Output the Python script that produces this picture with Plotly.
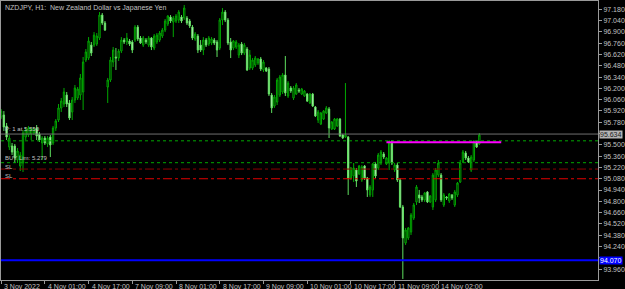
import plotly.graph_objects as go

# ---------------- data ----------------
bar_index = list(range(176))

open_ = [95.845,95.870,95.734,95.473,95.486,95.486,95.312,95.238,95.275,95.597,
         95.622,95.634,95.647,95.709,95.634,95.523,95.585,95.511,95.597,95.523,
         95.709,95.808,95.957,96.006,96.118,96.019,95.907,96.056,96.081,96.118,
         96.155,96.551,96.576,96.737,96.737,96.750,96.824,97.109,97.010,96.217,
         96.304,96.527,96.589,96.576,96.663,96.799,96.775,96.787,96.775,96.799,
         96.960,96.824,96.737,96.799,96.737,96.824,96.700,96.775,96.799,96.849,
         96.923,96.998,97.084,97.022,97.035,97.047,97.084,97.072,97.072,97.035,
         96.960,96.812,96.849,96.737,96.675,96.799,96.750,96.762,96.799,96.775,
         96.700,97.047,97.146,97.047,96.775,96.700,96.713,96.613,96.750,96.638,
         96.688,96.452,96.452,96.490,96.514,96.564,96.428,96.452,96.440,96.118,
         95.981,96.031,96.118,96.155,96.366,96.105,96.205,96.081,96.130,96.180,
         96.130,96.105,96.130,96.019,96.130,95.969,95.808,95.758,95.820,95.895,
         95.944,95.696,95.696,95.734,95.820,95.622,95.597,95.597,95.089,95.114,
         95.188,95.139,95.064,95.238,95.089,94.879,94.941,95.263,95.213,95.275,
         95.387,95.263,95.275,95.523,95.188,95.250,95.064,94.730,94.284,94.346,
         94.420,94.593,94.792,94.879,94.854,94.817,94.916,94.792,94.730,94.817,
         95.126,95.126,94.755,94.854,94.804,94.879,94.755,94.879,95.040,95.288,
         95.399,95.337,95.188,95.312,95.535,95.511]
high_ = [95.944,95.919,95.771,95.622,95.523,95.511,95.461,95.411,95.684,95.721,
         95.734,95.721,95.721,95.746,95.659,95.610,95.610,95.610,95.622,95.734,
         95.820,96.006,96.081,96.205,96.155,96.056,96.093,96.242,96.217,96.378,
         96.589,96.688,96.836,96.775,96.898,96.886,97.146,97.134,97.035,96.329,
         96.589,96.713,96.700,96.688,96.836,96.824,96.886,96.812,96.799,96.985,
         96.985,96.849,96.849,96.824,96.849,96.836,96.874,96.886,96.911,96.948,
         97.060,97.109,97.109,97.097,97.122,97.171,97.109,97.233,97.097,97.060,
         96.985,96.898,96.874,96.799,96.836,96.824,96.849,96.836,96.824,96.799,
         97.072,97.196,97.171,97.072,96.824,96.799,96.799,96.762,96.775,96.762,
         96.713,96.675,96.576,96.601,96.576,96.589,96.551,96.465,96.465,96.143,
         96.118,96.329,96.366,96.390,96.601,96.291,96.229,96.229,96.266,96.205,
         96.205,96.180,96.143,96.143,96.143,95.981,95.932,95.907,95.932,95.981,
         95.969,95.796,95.833,95.833,95.833,95.634,96.266,95.610,95.226,95.275,
         95.213,95.250,95.250,95.250,95.102,95.002,95.275,95.288,95.399,95.436,
         95.411,95.349,95.560,95.560,95.275,95.275,95.089,94.755,94.470,94.482,
         94.655,94.779,95.002,94.941,94.879,94.916,94.928,94.879,95.151,95.213,
         95.312,95.151,94.903,94.866,94.903,94.891,94.941,95.040,95.312,95.436,
         95.424,95.362,95.374,95.560,95.548,95.647]
low_ = [95.820,95.672,95.560,95.436,95.374,95.275,95.275,95.176,95.164,95.560,
        95.597,95.560,95.622,95.560,95.535,95.312,95.498,95.473,95.349,95.498,
        95.672,95.783,95.907,95.969,95.969,95.808,95.808,96.019,96.056,96.056,
        95.932,96.527,96.551,96.601,96.713,96.725,96.799,96.985,96.911,96.019,
        96.279,96.465,96.428,96.539,96.638,96.750,96.737,96.725,96.638,96.775,
        96.787,96.750,96.713,96.750,96.713,96.675,96.675,96.750,96.775,96.824,
        96.898,96.973,97.010,96.836,97.010,97.010,97.010,97.047,96.985,96.948,
        96.799,96.787,96.638,96.651,96.613,96.713,96.725,96.737,96.737,96.589,
        96.675,96.985,97.022,96.737,96.576,96.675,96.688,96.576,96.613,96.613,
        96.415,96.428,96.428,96.465,96.490,96.415,96.403,96.403,96.105,95.895,
        95.957,95.994,96.093,96.130,96.105,96.081,96.143,96.056,96.118,96.143,
        96.118,96.093,96.031,96.006,95.969,95.845,95.771,95.746,95.808,95.882,
        95.585,95.684,95.684,95.721,95.597,95.573,95.585,94.879,95.064,95.040,
        94.978,95.126,95.040,95.064,94.854,94.854,94.854,95.089,95.188,95.250,
        95.325,95.250,95.188,95.250,95.164,95.040,94.717,93.838,94.259,94.321,
        94.383,94.569,94.755,94.779,94.792,94.792,94.779,94.779,94.693,94.792,
        95.102,94.792,94.730,94.817,94.779,94.817,94.730,94.854,95.027,95.275,
        95.312,95.275,95.164,95.288,95.461,95.498]
close_ = [95.919,95.721,95.597,95.585,95.411,95.337,95.424,95.374,95.647,95.684,
          95.709,95.696,95.696,95.610,95.560,95.585,95.523,95.585,95.498,95.709,
          95.796,95.957,96.043,96.155,96.006,95.833,96.056,96.205,96.192,96.329,
          96.527,96.651,96.787,96.638,96.861,96.849,97.109,97.010,96.923,96.304,
          96.551,96.675,96.576,96.663,96.799,96.775,96.824,96.750,96.675,96.960,
          96.812,96.762,96.824,96.775,96.824,96.713,96.849,96.861,96.886,96.923,
          97.035,97.097,97.035,97.072,97.097,97.146,97.035,97.196,97.010,96.973,
          96.824,96.874,96.675,96.675,96.799,96.737,96.824,96.812,96.762,96.675,
          97.047,97.146,97.047,96.762,96.675,96.787,96.775,96.737,96.638,96.737,
          96.428,96.613,96.551,96.576,96.564,96.440,96.527,96.415,96.130,95.957,
          96.093,96.304,96.341,96.366,96.143,96.266,96.167,96.205,96.242,96.167,
          96.192,96.167,96.043,96.130,95.981,95.858,95.907,95.895,95.919,95.957,
          95.709,95.783,95.820,95.820,95.610,95.585,95.622,95.089,95.213,95.213,
          95.052,95.238,95.226,95.089,94.941,94.978,95.263,95.114,95.374,95.411,
          95.349,95.337,95.523,95.275,95.250,95.064,94.730,94.346,94.445,94.470,
          94.631,94.755,94.978,94.841,94.817,94.903,94.792,94.866,95.126,95.188,
          95.275,94.817,94.879,94.841,94.891,94.841,94.916,95.027,95.275,95.411,
          95.337,95.288,95.349,95.535,95.473,95.622]

x_tick_index = [0, 16, 32, 48, 64, 80, 96, 112, 128, 144, 160]
x_tick_labels = ["3 Nov 2022", "4 Nov 01:00", "4 Nov 17:00", "7 Nov 09:00",
                 "8 Nov 01:00", "8 Nov 17:00", "9 Nov 09:00", "10 Nov 01:00",
                 "10 Nov 17:00", "11 Nov 09:00", "14 Nov 02:00"]

y_tick_values = [97.18, 97.04, 96.90, 96.76, 96.62, 96.48, 96.34, 96.20, 96.06,
                 95.92, 95.78, 95.64, 95.50, 95.36, 95.22, 95.08, 94.94, 94.80,
                 94.66, 94.52, 94.38, 94.24, 94.10, 93.96]
y_tick_labels = ["97.180", "97.040", "96.900", "96.760", "96.620", "96.480",
                 "96.340", "96.200", "96.060", "95.920", "95.780", "", "95.500",
                 "95.360", "95.220", "95.080", "94.940", "94.800", "94.660",
                 "94.520", "94.380", "94.240", "", "93.960"]

bid_price = 95.634
bid_label = "95.634"
order_levels = [95.550, 95.279]          # green dotted
sl_levels = [95.200, 95.080]            # dash-dot red
sl_colors = ["#8b0000", "#e00000"]
blue_level = 94.070
blue_label = "94.070"
magenta_level = 95.531
magenta_span = [141, 183]

left_texts = ["P: 1 at 5.550", "BUY Lim: 5.279", "SL", "SL"]
left_text_prices = [95.700, 95.335, 95.222, 95.110]

title_text = "NZDJPY, H1:  New Zealand Dollar vs Japanese Yen"

# ---------------- figure ----------------
GREEN = "#00a800"
AXIS = "#9a9a9a"
TXT = "#c0c0c0"
FONT = "Liberation Sans"

fig = go.Figure()
fig.add_trace(go.Candlestick(
    x=bar_index, open=open_, high=high_, low=low_, close=close_,
    increasing=dict(line=dict(color=GREEN, width=1), fillcolor="#000000"),
    decreasing=dict(line=dict(color="#5fe05f", width=1), fillcolor="#e8ffe8"),
    whiskerwidth=0, hoverinfo="skip", showlegend=False,
))

shapes = []
shapes.append(dict(type="line", xref="paper", x0=0, x1=1, yref="y",
                   y0=bid_price, y1=bid_price, line=dict(color="#707070", width=1)))
for lv in order_levels:
    shapes.append(dict(type="line", xref="paper", x0=0, x1=1, yref="y",
                       y0=lv, y1=lv, line=dict(color=GREEN, width=1, dash="dot")))
for lv, c in zip(sl_levels, sl_colors):
    shapes.append(dict(type="line", xref="paper", x0=0, x1=1, yref="y",
                       y0=lv, y1=lv, line=dict(color=c, width=1, dash="dashdot")))
shapes.append(dict(type="line", xref="paper", x0=0, x1=1, yref="y",
                   y0=blue_level, y1=blue_level, line=dict(color="#0000ff", width=2)))
shapes.append(dict(type="line", xref="x", x0=magenta_span[0], x1=magenta_span[1],
                   yref="y", y0=magenta_level, y1=magenta_level,
                   line=dict(color="#ff00ff", width=2)))

annotations = []
annotations.append(dict(text=title_text, xref="paper", yref="paper", x=0.004, y=0.995,
                        xanchor="left", yanchor="top", showarrow=False,
                        font=dict(family=FONT, size=7, color=TXT)))
for t, p in zip(x_tick_labels, x_tick_index):
    annotations.append(dict(text=t, xref="x", yref="paper", x=p, y=-0.005,
                            xanchor="left", yanchor="top", xshift=1, showarrow=False,
                            font=dict(family=FONT, size=7, color=TXT)))
for t, p in zip(left_texts, left_text_prices):
    annotations.append(dict(text=t, xref="paper", yref="y", x=0.004, y=p,
                            xanchor="left", yanchor="middle", showarrow=False,
                            font=dict(family=FONT, size=6, color=TXT)))
annotations.append(dict(text=bid_label, xref="paper", yref="y", x=1, y=bid_price,
                        xanchor="left", yanchor="middle", showarrow=False,
                        bgcolor="#b4b4b4", borderpad=0, xshift=1,
                        font=dict(family=FONT, size=7, color="#202020")))
annotations.append(dict(text=blue_label, xref="paper", yref="y", x=1, y=blue_level,
                        xanchor="left", yanchor="middle", showarrow=False,
                        bgcolor="#0000ff", borderpad=0, xshift=1,
                        font=dict(family=FONT, size=7, color="#ffffff")))

fig.update_layout(
    width=625, height=289,
    margin=dict(l=0, r=22, t=1, b=9),
    paper_bgcolor="#000000", plot_bgcolor="#000000",
    shapes=shapes, annotations=annotations,
    showlegend=False,
)
fig.update_xaxes(
    range=[-0.05, 218.42], rangeslider=dict(visible=False),
    showgrid=False, zeroline=False, showline=True, linecolor=AXIS, linewidth=1,
    mirror=True, tickmode="array", tickvals=x_tick_index,
    ticktext=["" for _ in x_tick_index], ticks="outside", ticklen=3,
    tickcolor=AXIS,
)
fig.update_yaxes(
    range=[93.825, 97.283], side="right",
    showgrid=False, zeroline=False, showline=True, linecolor=AXIS, linewidth=1,
    mirror=True, tickmode="array", tickvals=y_tick_values, ticktext=y_tick_labels,
    ticks="outside", ticklen=3, tickcolor=AXIS,
    tickfont=dict(family=FONT, size=7, color=TXT),
)

fig.write_html("out.html")
